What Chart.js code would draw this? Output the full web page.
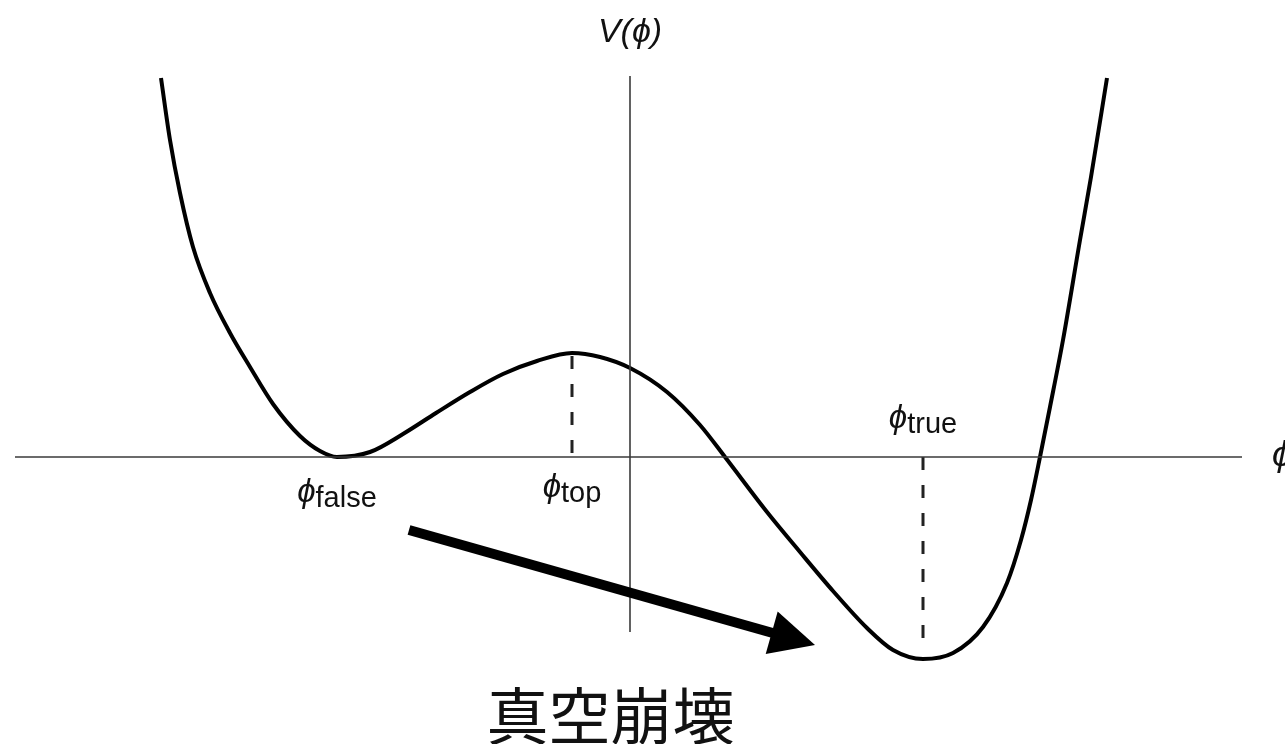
<!DOCTYPE html>
<html>
<head>
<meta charset="utf-8">
<script src="https://cdn.jsdelivr.net/npm/chart.js@4.4.0/dist/chart.umd.min.js"></script>
<style>
  html, body { margin: 0; padding: 0; background: #fff; overflow: hidden; }
  #wrap { width: 1285px; height: 744px; }
</style>
</head>
<body>
<div id="wrap"><canvas id="chart" width="1285" height="744"></canvas></div>
<script>
/* Double-well potential V(phi) — false vacuum decay sketch */

// field value (origin on the V axis) and potential
const phi = [-4.69, -4.60, -4.50, -4.37, -4.20, -4.00, -3.80, -3.57, -3.30, -3.10,
             -2.93, -2.60, -2.27, -1.94, -1.60, -1.27, -0.93, -0.58, -0.30, 0.00,
             0.37, 0.70, 0.95, 1.37, 1.70, 2.03, 2.37, 2.63, 2.93, 3.23,
             3.53, 3.77, 3.91, 4.01, 4.10, 4.20, 4.33, 4.50, 4.61, 4.77];
const potential = [3.79, 3.17, 2.64, 2.10, 1.64, 1.24, 0.90, 0.53, 0.21, 0.06,
                   0.00, 0.05, 0.23, 0.44, 0.65, 0.83, 0.96, 1.04, 1.00, 0.89,
                   0.65, 0.32, 0.00, -0.55, -0.95, -1.34, -1.71, -1.93, -2.02, -1.96,
                   -1.70, -1.26, -0.83, -0.43, 0.00, 0.50, 1.17, 2.17, 2.80, 3.79];

// marked field values
const markerNames = ['false', 'top', 'true'];
const markerPhi = [-2.93, -0.58, 2.93];

// axis extents and view window
const axisPhi = [-6.15, 6.12];
const axisV = [-1.75, 3.81];
const phiRange = [-6.30, 6.55];
const vRange = [-2.87, 4.57];

// arrow from false to true vacuum (data coords)
const arrowFrom = [-2.21, -0.73];
const arrowTo = [1.85, -1.88];

const caption = '真空崩壊';

const LATIN = "'Liberation Sans', 'DejaVu Sans', sans-serif";
const CJK = "'Noto Sans CJK JP', 'Noto Sans CJK SC', sans-serif";
const PHI = '\u03D5';

const curve = phi.map((x, i) => ({ x, y: potential[i] }));
const vAt = (p) => potential[phi.indexOf(p)];

const axisColor = '#3a3a3a';
const datasets = [
  { data: [{ x: axisPhi[0], y: 0 }, { x: axisPhi[1], y: 0 }], borderColor: axisColor, borderWidth: 1.6 },
  { data: [{ x: 0, y: axisV[0] }, { x: 0, y: axisV[1] }], borderColor: axisColor, borderWidth: 1.6 },
  // dashed drop lines at the top of the barrier and the true minimum
  { data: [{ x: markerPhi[1], y: vAt(markerPhi[1]) - 0.03 }, { x: markerPhi[1], y: 0 }],
    borderColor: '#222', borderWidth: 3, borderDash: [13, 15] },
  { data: [{ x: markerPhi[2], y: 0 }, { x: markerPhi[2], y: vAt(markerPhi[2]) + 0.14 }],
    borderColor: '#222', borderWidth: 3, borderDash: [13, 15] },
  { data: curve, borderColor: '#000', borderWidth: 4, cubicInterpolationMode: 'monotone' },
];

const sketchPlugin = {
  id: 'sketch',
  afterDatasetsDraw(chart) {
    const { ctx, scales: { x, y } } = chart;
    ctx.save();

    // arrow
    const x0 = x.getPixelForValue(arrowFrom[0]), y0 = y.getPixelForValue(arrowFrom[1]);
    const x1 = x.getPixelForValue(arrowTo[0]), y1 = y.getPixelForValue(arrowTo[1]);
    const len = Math.hypot(x1 - x0, y1 - y0);
    const ux = (x1 - x0) / len, uy = (y1 - y0) / len;
    const headLen = 45, headHalf = 22;
    const bx = x1 - headLen * ux, by = y1 - headLen * uy;
    ctx.strokeStyle = '#000';
    ctx.lineWidth = 10;
    ctx.lineCap = 'butt';
    ctx.beginPath();
    ctx.moveTo(x0, y0);
    ctx.lineTo(bx + 2 * ux, by + 2 * uy);
    ctx.stroke();
    ctx.fillStyle = '#000';
    ctx.beginPath();
    ctx.moveTo(x1, y1);
    ctx.lineTo(bx - headHalf * uy, by + headHalf * ux);
    ctx.lineTo(bx + headHalf * uy, by - headHalf * ux);
    ctx.closePath();
    ctx.fill();

    // axis titles
    ctx.fillStyle = '#111';
    ctx.textBaseline = 'alphabetic';
    ctx.font = 'italic 34px ' + LATIN;
    ctx.textAlign = 'center';
    ctx.fillText('V(' + PHI + ')', x.getPixelForValue(0), y.getPixelForValue(axisV[1]) - 34);
    ctx.textAlign = 'left';
    ctx.font = 'italic 36px ' + LATIN;
    ctx.fillText(PHI, x.getPixelForValue(axisPhi[1]) + 30, y.getPixelForValue(0) + 9);

    // phi_false / phi_top / phi_true labels
    const baseOffsets = [50, 45, -24];
    markerNames.forEach((name, i) => {
      ctx.font = 'italic 33px ' + LATIN;
      const wPhi = ctx.measureText(PHI).width;
      ctx.font = '29px ' + LATIN;
      const wSub = ctx.measureText(name).width;
      const left = x.getPixelForValue(markerPhi[i]) - (wPhi + wSub) / 2;
      const base = y.getPixelForValue(0) + baseOffsets[i];
      ctx.textAlign = 'left';
      ctx.font = 'italic 33px ' + LATIN;
      ctx.fillText(PHI, left, base - 5);
      ctx.font = '29px ' + LATIN;
      ctx.fillText(name, left + wPhi, base);
    });

    // caption
    ctx.font = '62px ' + CJK;
    ctx.textAlign = 'center';
    ctx.fillText(caption, chart.width / 2 - 32, 740);
    ctx.restore();
  }
};

new Chart(document.getElementById('chart'), {
  type: 'line',
  data: { datasets },
  options: {
    responsive: false,
    animation: false,
    layout: { padding: 0 },
    elements: { point: { radius: 0 }, line: { fill: false, tension: 0 } },
    plugins: { legend: { display: false }, tooltip: { enabled: false } },
    scales: {
      x: { type: 'linear', min: phiRange[0], max: phiRange[1], display: false },
      y: { type: 'linear', min: vRange[0], max: vRange[1], display: false },
    },
  },
  plugins: [sketchPlugin],
});
</script>
</body>
</html>
